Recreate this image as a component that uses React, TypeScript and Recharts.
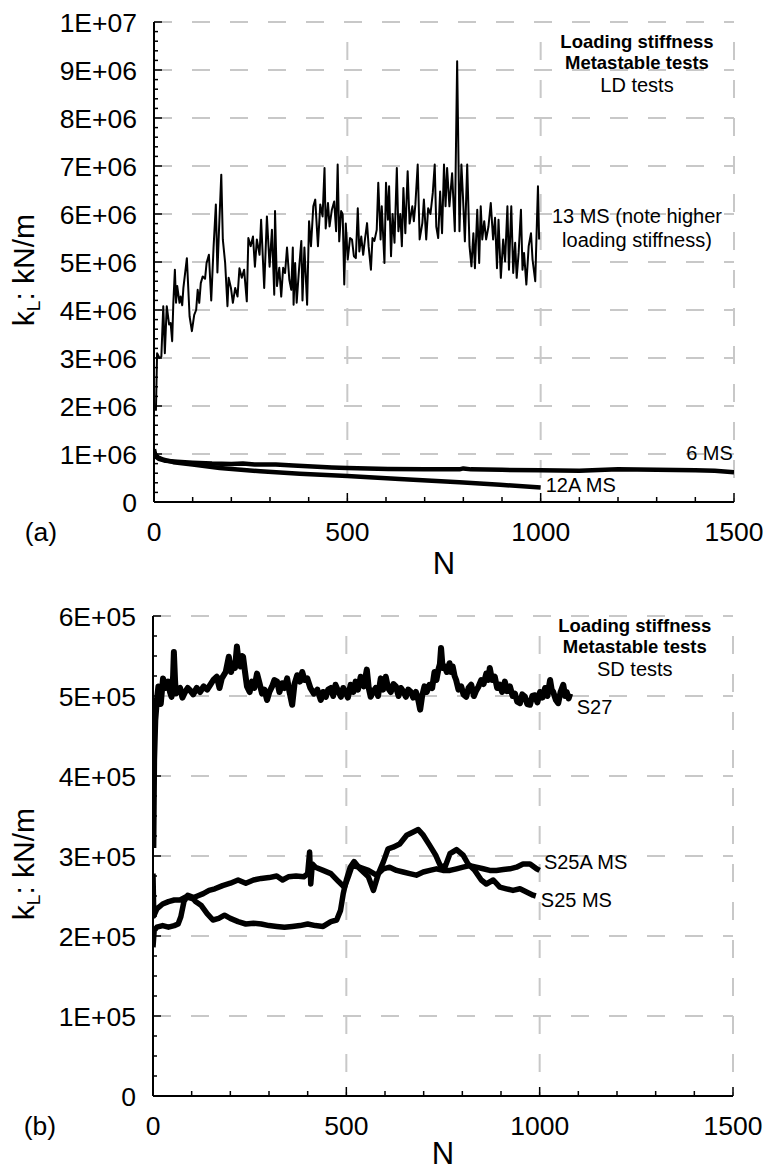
import React from 'react';
import { LineChart, Line, XAxis, YAxis, ReferenceLine, ReferenceDot } from 'recharts';

const FONT = '"Liberation Sans", Arial, Helvetica, sans-serif';

// (a) LD tests — [N, k_L in 1E+06 kN/m]
const ms13: [number, number][] = [
    [5, 1.9], [8, 3.1], [14, 3.0], [19, 3.03], [24, 4.08], [28, 3.1], [33, 4.08], [39, 3.7], [43, 3.73], [47, 3.35],
    [50, 4.15], [54, 4.84], [57, 4.15], [60, 4.5], [66, 4.15], [69, 4.28], [73, 4.1], [76, 4.46], [85, 5.08], [92, 3.87],
    [98, 3.56], [104, 3.9], [109, 4.0], [113, 4.42], [117, 4.15], [121, 4.56], [126, 4.7], [132, 4.65], [136, 4.98], [142, 5.15],
    [148, 4.2], [154, 5.3], [160, 6.2], [164, 4.78], [168, 5.64], [174, 6.82], [178, 5.47], [184, 4.98], [190, 4.08], [193, 4.67],
    [199, 4.46], [204, 4.15], [210, 4.46], [216, 4.28], [221, 4.87], [227, 4.67], [233, 4.84], [240, 4.18], [244, 5.5], [250, 5.33],
    [256, 5.53], [261, 4.9], [266, 5.47], [273, 5.15], [277, 5.88], [285, 4.46], [292, 5.95], [299, 4.9], [305, 5.67], [311, 4.32],
    [313, 6.06], [318, 4.5], [324, 4.88], [329, 4.28], [334, 4.88], [339, 4.77], [344, 5.3], [350, 4.63], [355, 4.42], [359, 5.3],
    [361, 4.11], [365, 4.98], [369, 4.15], [375, 4.84], [381, 5.44], [384, 4.2], [389, 5.3], [396, 4.11], [401, 5.85], [406, 5.33],
    [412, 6.16], [417, 6.3], [424, 5.33], [430, 6.2], [436, 5.95], [441, 6.96], [444, 5.7], [450, 6.23], [454, 5.74], [460, 6.09],
    [466, 6.26], [471, 5.64], [475, 7.03], [479, 5.43], [484, 6.06], [488, 6.0], [492, 4.53], [496, 5.8], [501, 5.05], [507, 5.5],
    [512, 5.47], [517, 5.12], [522, 5.08], [527, 6.12], [531, 5.22], [536, 5.53], [541, 5.15], [546, 5.5], [551, 5.81], [555, 5.33],
    [561, 4.84], [565, 5.5], [570, 5.44], [576, 5.67], [580, 6.65], [586, 5.47], [589, 6.16], [596, 4.98], [600, 6.65], [605, 5.88],
    [608, 6.58], [613, 5.12], [617, 6.0], [622, 5.4], [628, 6.96], [632, 5.64], [637, 6.0], [641, 5.33], [645, 6.54], [650, 5.6],
    [656, 6.89], [661, 5.8], [668, 6.16], [672, 5.85], [676, 6.2], [682, 7.03], [687, 5.47], [694, 5.81], [698, 6.3], [704, 5.47],
    [709, 6.12], [715, 6.0], [721, 6.44], [726, 7.03], [730, 5.74], [735, 5.5], [740, 6.47], [745, 5.6], [750, 7.03], [754, 6.16],
    [758, 6.96], [764, 6.16], [771, 6.85], [778, 5.64], [784, 9.18], [790, 5.64], [795, 7.03], [799, 6.37], [804, 5.43], [810, 7.03],
    [816, 5.33], [821, 4.91], [826, 5.6], [830, 4.87], [836, 6.09], [841, 4.98], [845, 6.16], [849, 5.47], [854, 5.85], [859, 5.47],
    [865, 5.74], [871, 6.23], [877, 5.47], [882, 5.92], [887, 4.87], [891, 5.88], [897, 4.67], [903, 5.47], [908, 5.01], [914, 6.16],
    [918, 4.84], [924, 6.16], [929, 4.77], [934, 5.4], [938, 4.67], [943, 5.19], [949, 6.09], [953, 4.84], [957, 5.19], [963, 4.53],
    [969, 5.33], [975, 5.6], [979, 5.05], [986, 4.6], [989, 5.47], [993, 6.58], [996, 5.47],
];
const ms6: [number, number][] = [
    [0, 1.1], [4, 0.95], [12, 0.9], [30, 0.86], [60, 0.84], [100, 0.82], [150, 0.8], [200, 0.79], [230, 0.8], [260, 0.78],
    [315, 0.78], [360, 0.76], [410, 0.74], [460, 0.72], [500, 0.71], [605, 0.69], [700, 0.68], [790, 0.68], [800, 0.7], [820, 0.68],
    [900, 0.67], [1000, 0.66], [1100, 0.65], [1200, 0.68], [1300, 0.67], [1400, 0.66], [1450, 0.65], [1500, 0.62],
];
const ms12A: [number, number][] = [
    [0, 1.02], [10, 0.93], [25, 0.88], [50, 0.83], [100, 0.78], [170, 0.71], [275, 0.64], [377, 0.59], [500, 0.54], [635, 0.48],
    [790, 0.41], [895, 0.36], [1000, 0.3],
];

// (b) SD tests — [N, k_L in 1E+05 kN/m]
const s27: [number, number][] = [
    [1, 3.1], [3, 4.2], [6, 4.7], [10, 4.95], [14, 5.12], [20, 4.9], [26, 5.22], [32, 5.1], [39, 5.18], [44, 5.05],
    [48, 4.99], [52, 5.25], [54, 5.55], [57, 5.2], [59, 5.03], [64, 5.08], [70, 5.1], [76, 4.98], [83, 5.05], [90, 5.1],
    [96, 5.07], [104, 5.02], [113, 5.1], [122, 5.05], [131, 5.12], [140, 5.08], [148, 5.14], [156, 5.2], [165, 5.24], [172, 5.1],
    [178, 5.22], [188, 5.3], [196, 5.49], [202, 5.3], [207, 5.41], [212, 5.35], [217, 5.62], [222, 5.4], [226, 5.37], [230, 5.5],
    [233, 5.49], [238, 5.3], [243, 5.12], [250, 5.05], [256, 5.18], [262, 5.1], [269, 5.28], [276, 5.15], [282, 5.03], [288, 5.08],
    [295, 4.95], [301, 5.05], [308, 5.12], [314, 5.2], [321, 5.18], [327, 5.05], [334, 5.16], [340, 5.1], [347, 5.22], [353, 5.05],
    [360, 4.89], [366, 5.15], [373, 5.26], [380, 5.18], [386, 5.3], [392, 5.2], [399, 5.22], [407, 5.1], [416, 5.03], [425, 5.08],
    [434, 4.95], [440, 5.05], [447, 4.99], [453, 5.08], [460, 5.1], [466, 5.0], [472, 5.14], [479, 5.06], [486, 4.99], [492, 5.1],
    [498, 5.05], [504, 4.98], [511, 5.14], [518, 5.05], [524, 5.18], [530, 5.08], [537, 5.24], [545, 5.12], [553, 5.33], [558, 5.1],
    [563, 4.99], [570, 5.06], [576, 5.1], [582, 5.0], [589, 5.22], [595, 5.08], [602, 5.24], [608, 5.1], [615, 5.05], [622, 5.15],
    [628, 5.12], [635, 5.0], [641, 5.1], [648, 5.05], [654, 4.99], [660, 5.08], [667, 5.05], [673, 4.98], [680, 5.05], [686, 4.95],
    [691, 4.83], [696, 5.0], [702, 5.12], [708, 5.05], [715, 5.14], [722, 5.1], [728, 5.3], [733, 5.2], [738, 5.33], [742, 5.4],
    [745, 5.6], [749, 5.35], [754, 5.37], [760, 5.3], [767, 5.41], [771, 5.3], [775, 5.37], [780, 5.25], [784, 5.2], [790, 5.08],
    [797, 5.12], [803, 5.02], [810, 4.99], [816, 5.1], [823, 5.14], [830, 5.0], [836, 5.07], [842, 5.12], [849, 5.2], [855, 5.15],
    [862, 5.28], [867, 5.2], [871, 5.35], [877, 5.2], [884, 5.24], [890, 5.1], [897, 5.14], [903, 5.05], [910, 5.18], [916, 5.06],
    [923, 5.12], [930, 5.0], [936, 5.03], [942, 4.93], [949, 4.91], [955, 5.02], [962, 4.99], [968, 4.9], [975, 4.89], [981, 5.0],
    [988, 5.01], [994, 4.92], [1001, 5.05], [1007, 4.98], [1014, 5.1], [1020, 5.0], [1027, 5.2], [1031, 5.08], [1035, 5.05], [1042, 4.95],
    [1048, 4.91], [1054, 5.05], [1061, 5.14], [1066, 5.0], [1070, 5.05], [1075, 4.97], [1079, 5.03],
];
const s25A: [number, number][] = [
    [0, 2.78], [2, 2.25], [10, 2.34], [25, 2.4], [40, 2.43], [55, 2.45], [70, 2.45], [85, 2.49], [100, 2.47], [115, 2.5],
    [130, 2.53], [145, 2.57], [160, 2.59], [180, 2.63], [200, 2.66], [220, 2.7], [240, 2.66], [260, 2.7], [280, 2.72], [300, 2.73],
    [320, 2.75], [335, 2.7], [350, 2.74], [370, 2.75], [390, 2.74], [400, 2.78], [405, 3.05], [408, 2.65], [412, 2.9], [420, 2.86],
    [440, 2.82], [460, 2.78], [480, 2.68], [495, 2.61], [505, 2.74], [515, 2.88], [535, 2.86], [557, 2.82], [578, 2.76], [596, 2.84],
    [612, 2.86], [630, 2.82], [647, 2.8], [664, 2.78], [681, 2.76], [699, 2.8], [716, 2.82], [733, 2.84], [750, 2.82], [768, 2.82],
    [785, 2.84], [802, 2.86], [819, 2.88], [836, 2.86], [854, 2.84], [871, 2.82], [888, 2.82], [906, 2.83], [923, 2.84], [940, 2.86],
    [957, 2.9], [975, 2.9], [992, 2.84], [1000, 2.82],
];
const s25: [number, number][] = [
    [0, 1.86], [3, 2.07], [10, 2.11], [25, 2.13], [40, 2.11], [55, 2.13], [65, 2.15], [72, 2.24], [80, 2.43], [90, 2.51],
    [100, 2.49], [110, 2.43], [125, 2.38], [140, 2.28], [155, 2.2], [170, 2.22], [185, 2.26], [200, 2.22], [220, 2.18], [240, 2.15],
    [260, 2.16], [280, 2.15], [300, 2.13], [320, 2.12], [340, 2.11], [360, 2.12], [380, 2.13], [400, 2.15], [420, 2.13], [440, 2.12],
    [460, 2.18], [475, 2.2], [485, 2.32], [492, 2.53], [500, 2.7], [510, 2.86], [520, 2.93], [535, 2.84], [557, 2.74], [570, 2.57],
    [583, 2.78], [596, 2.93], [608, 3.09], [621, 3.11], [638, 3.15], [656, 3.26], [673, 3.3], [686, 3.33], [699, 3.26], [716, 3.13],
    [731, 3.01], [743, 2.88], [755, 2.86], [768, 3.03], [785, 3.08], [802, 3.01], [815, 2.9], [832, 2.82], [849, 2.7], [862, 2.65],
    [880, 2.7], [897, 2.61], [914, 2.59], [931, 2.57], [949, 2.59], [966, 2.55], [983, 2.51], [990, 2.5],
];

const xMajor = [0, 500, 1000, 1500];
const xLabels = ['0', '500', '1000', '1500'];
const yMajorA = [0, 1e6, 2e6, 3e6, 4e6, 5e6, 6e6, 7e6, 8e6, 9e6, 1e7];
const yLabelsA = ['0', '1E+06', '2E+06', '3E+06', '4E+06', '5E+06', '6E+06', '7E+06', '8E+06', '9E+06', '1E+07'];
const yMajorB = [0, 1e5, 2e5, 3e5, 4e5, 5e5, 6e5];
const yLabelsB = ['0', '1E+05', '2E+05', '3E+05', '4E+05', '5E+05', '6E+05'];

const titleA = ['Loading stiffness', 'Metastable tests', 'LD tests'];
const titleB = ['Loading stiffness', 'Metastable tests', 'SD tests'];
const note13 = ['13 MS (note higher', 'loading stiffness)'];

const steps = (max: number, step: number) => Array.from({ length: Math.round(max / step) + 1 }, (_, i) => i * step);
const toPts = (arr: [number, number][], scale: number) => arr.map(([n, k]) => ({ n, k: k * scale }));

const GRID = '#c8c8c8';

const makeYTick = (majors: number[], labels: string[]) => (props: any) => {
    const { x, y, payload } = props;
    const i = majors.indexOf(payload.value);
    return (
        <g>
            <line x1={x} x2={x + (i >= 0 ? 8 : 4)} y1={y} y2={y} stroke="#000" strokeWidth={1.5} />
            {i >= 0 && (
                <text x={x - 17} y={y} dy="0.36em" textAnchor="end" fontSize={26.5} fontFamily={FONT} fill="#000">
                    {labels[i]}
                </text>
            )}
        </g>
    );
};

const XTick = (props: any) => {
    const { x, y, payload } = props;
    const i = xMajor.indexOf(payload.value);
    return (
        <g>
            <line x1={x} x2={x} y1={y} y2={y - (i >= 0 ? 9 : 5)} stroke="#000" strokeWidth={1.5} />
            {i >= 0 && (
                <text x={x} y={y + 39} textAnchor="middle" fontSize={26.5} fontFamily={FONT} fill="#000">
                    {xLabels[i]}
                </text>
            )}
        </g>
    );
};

const yLabel = (props: any) => {
    const { x, y, height } = props.viewBox;
    const cx = x + 34;
    const cy = y + height / 2 + 8;
    return (
        <text x={cx} y={cy} transform={`rotate(-90, ${cx}, ${cy})`} textAnchor="middle" fontSize={30} fontFamily={FONT} fill="#000">
            k<tspan fontSize={19} dy={6}>L</tspan><tspan dy={-6}>: kN/m</tspan>
        </text>
    );
};

const makeXLabel = (tag: string, nGap: number) => (props: any) => {
    const { x, y, width } = props.viewBox;
    return (
        <g fontFamily={FONT} fill="#000">
            <text x={x + width / 2} y={y + nGap} textAnchor="middle" fontSize={31}>N</text>
            <text x={x - 113} y={y + 39} textAnchor="middle" fontSize={26.5}>{tag}</text>
        </g>
    );
};

// multi-line note; the first `boldCount` lines are bold
const makeNote = (lines: string[], gaps: number[], anchor: 'start' | 'middle' | 'end', boldCount = 0) => (props: any) => {
    const { x, y } = props.viewBox;
    return (
        <text x={x} y={y} textAnchor={anchor} fontSize={20} fontFamily={FONT} fill="#000">
            {lines.map((t, i) => (
                <tspan key={i} x={x} dy={gaps[i]} fontWeight={i < boldCount ? 'bold' : 'normal'} fontSize={i < boldCount ? 18.5 : 20}>{t}</tspan>
            ))}
        </text>
    );
};

const gridLines = (yMajor: number[]) => [
    ...yMajor.filter(v => v > 0).map(v => (
        <ReferenceLine key={`h${v}`} y={v} stroke={GRID} strokeWidth={2} strokeDasharray="18 20" />
    )),
    ...xMajor.filter(v => v > 0).map(v => (
        <ReferenceLine key={`v${v}`} x={v} stroke={GRID} strokeWidth={2} strokeDasharray="18 20" strokeDashoffset={14} />
    )),
];

const lineProps = { type: 'linear' as const, dataKey: 'k', stroke: '#000', dot: false, isAnimationActive: false, strokeLinejoin: 'round' as const };

const App: React.FC = () => {
    const xTicks = steps(1500, 100);
    return (
        <div style={{ position: 'absolute', left: 0, top: 0, width: 763, height: 1173, background: '#fff' }}>
            <LineChart width={763} height={590} margin={{ top: 22, right: 29, left: 0, bottom: 0 }}>
                {gridLines(yMajorA)}
                <XAxis
                    type="number"
                    dataKey="n"
                    domain={[0, 1500]}
                    ticks={xTicks}
                    interval={0}
                    tick={XTick}
                    tickLine={false}
                    tickSize={0}
                    tickMargin={0}
                    height={88}
                    axisLine={{ stroke: '#000', strokeWidth: 2 }}
                    label={makeXLabel('(a)', 72)}
                    allowDataOverflow
                />
                <YAxis
                    type="number"
                    domain={[0, 1e7]}
                    ticks={steps(1e7, 2e5)}
                    interval={0}
                    tick={makeYTick(yMajorA, yLabelsA)}
                    tickLine={false}
                    tickSize={0}
                    tickMargin={0}
                    width={154}
                    axisLine={{ stroke: '#000', strokeWidth: 2 }}
                    label={yLabel}
                    allowDataOverflow
                />
                <Line {...lineProps} data={toPts(ms13, 1e6)} strokeWidth={2} />
                <Line {...lineProps} data={toPts(ms6, 1e6)} strokeWidth={4.5} />
                <Line {...lineProps} data={toPts(ms12A, 1e6)} strokeWidth={4.5} />
                <ReferenceDot x={1249} y={9.46e6} r={0} label={makeNote(titleA, [0, 21, 23], 'middle', 2)} />
                <ReferenceDot x={1249} y={5.82e6} r={0} label={makeNote(note13, [0, 24], 'middle')} />
                <ReferenceDot x={1497} y={0.875e6} r={0} label={makeNote(['6 MS'], [0], 'end')} />
                <ReferenceDot x={1013} y={0.215e6} r={0} label={makeNote(['12A MS'], [0], 'start')} />
            </LineChart>
            <LineChart width={763} height={583} margin={{ top: 26, right: 30, left: 0, bottom: 0 }}>
                {gridLines(yMajorB)}
                <XAxis
                    type="number"
                    dataKey="n"
                    domain={[0, 1500]}
                    ticks={xTicks}
                    interval={0}
                    tick={XTick}
                    tickLine={false}
                    tickSize={0}
                    tickMargin={0}
                    height={77}
                    axisLine={{ stroke: '#000', strokeWidth: 2 }}
                    label={makeXLabel('(b)', 68)}
                    allowDataOverflow
                />
                <YAxis
                    type="number"
                    domain={[0, 6e5]}
                    ticks={steps(6e5, 2.5e4)}
                    interval={0}
                    tick={makeYTick(yMajorB, yLabelsB)}
                    tickLine={false}
                    tickSize={0}
                    tickMargin={0}
                    width={153}
                    axisLine={{ stroke: '#000', strokeWidth: 2 }}
                    label={yLabel}
                    allowDataOverflow
                />
                <Line {...lineProps} data={toPts(s27, 1e5)} strokeWidth={6} />
                <Line {...lineProps} data={toPts(s25A, 1e5)} strokeWidth={5.5} />
                <Line {...lineProps} data={toPts(s25, 1e5)} strokeWidth={5.5} />
                <ReferenceDot x={1246} y={5.8e5} r={0} label={makeNote(titleB, [0, 21, 22.7], 'middle', 2)} />
                <ReferenceDot x={1096} y={4.78e5} r={0} label={makeNote(['S27'], [0], 'start')} />
                <ReferenceDot x={1011} y={2.84e5} r={0} label={makeNote(['S25A MS'], [0], 'start')} />
                <ReferenceDot x={1003} y={2.36e5} r={0} label={makeNote(['S25 MS'], [0], 'start')} />
            </LineChart>
        </div>
    );
};

export default App;
